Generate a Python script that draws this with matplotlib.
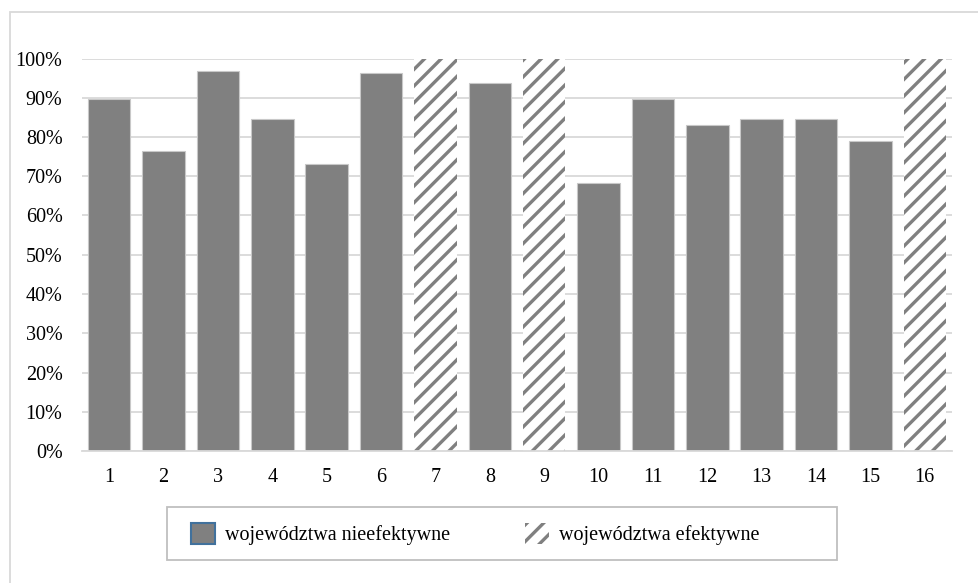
import matplotlib
matplotlib.use("Agg")
from matplotlib import pyplot as plt
from matplotlib.patches import Patch, Rectangle
from matplotlib.ticker import PercentFormatter

# efektywność województw (DEA), 16 obiektów
wojewodztwa = [str(i) for i in range(1, 17)]
efektywnosc = [89.7, 76.5, 96.8, 84.5, 73.1, 96.2, 100.0, 93.7,
               100.0, 68.2, 89.6, 83.1, 84.5, 84.5, 78.9, 100.0]
efektywne = [7, 9, 16]

plt.rcParams['font.family'] = ['Liberation Serif', 'DejaVu Serif']
plt.rcParams['font.size'] = 14.5
plt.rcParams['hatch.linewidth'] = 2.4
plt.rcParams['hatch.color'] = '#808080'

fig = plt.figure(figsize=(9.79, 5.83), dpi=100)
ax = fig.add_axes([82/979, 1 - 451/583, 870/979, 392.5/583])

# ramka wykresu
fig.patches.append(Rectangle((10/979, -0.1), 1.2, (583 - 12)/583 + 0.1,
                             transform=fig.transFigure, fill=False,
                             edgecolor='#d9d9d9', lw=1.3))

for i, (w, v) in enumerate(zip(wojewodztwa, efektywnosc)):
    if int(w) in efektywne:
        ax.bar(i, v, width=0.78, color='white', hatch='//', edgecolor='#808080', lw=0)
    else:
        ax.bar(i, v, width=0.78, color='#808080', edgecolor='#c8c8c8', lw=0.8)

ax.set_xlim(-0.5, len(wojewodztwa) - 0.5)
ax.set_ylim(0, 100)
ax.set_yticks(range(0, 101, 10))
ax.yaxis.set_major_formatter(PercentFormatter(decimals=0))
ax.set_xticks(range(len(wojewodztwa)))
ax.set_xticklabels(wojewodztwa)
ax.tick_params(length=0, pad=12)
ax.tick_params(axis='y', pad=14)
ax.grid(axis='y', color='#d9d9d9', lw=1.3)
ax.set_axisbelow(True)
for s in ['top', 'right', 'left']:
    ax.spines[s].set_visible(False)
ax.spines['bottom'].set_color('#d9d9d9')
ax.spines['bottom'].set_linewidth(1.3)

# ramka legendy
fig.patches.append(Rectangle((167/979, 1 - 560/583), 670/979, 53/583,
                             transform=fig.transFigure, facecolor='white',
                             edgecolor='#bfbfbf', lw=1.3))

uchwyty = [Patch(facecolor='#808080', edgecolor='#41719c', lw=1.5),
           Patch(facecolor='white', hatch='//', edgecolor='#808080', lw=0)]
leg = fig.legend(uchwyty, ['województwa nieefektywne', 'województwa efektywne'],
                 loc='center left', bbox_to_anchor=(191/979, 1 - 534/583), ncol=2,
                 frameon=False, handlelength=1.2, handleheight=1.2,
                 handletextpad=0.5, columnspacing=3.7, borderpad=0,
                 borderaxespad=0)

plt.savefig('out.png', dpi=100)
